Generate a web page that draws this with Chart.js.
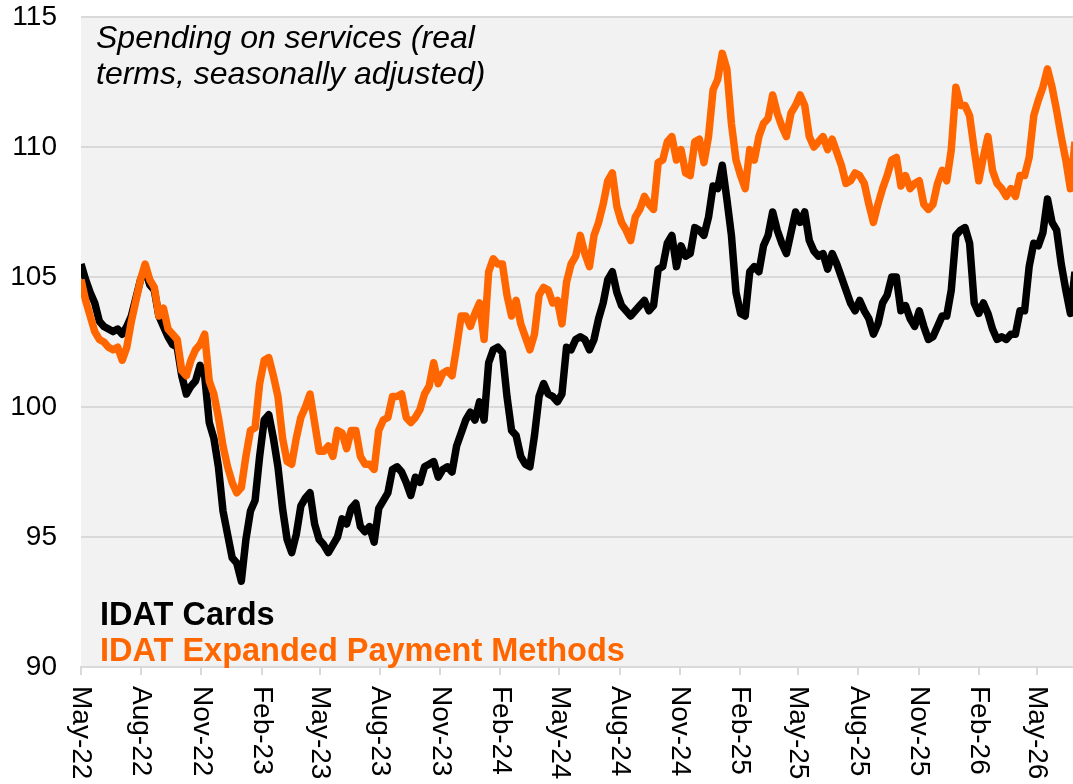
<!DOCTYPE html>
<html>
<head>
<meta charset="utf-8">
<script src="https://cdn.jsdelivr.net/npm/chart.js@4.4.1/dist/chart.umd.min.js"></script>
<style>
  html, body { margin: 0; padding: 0; background: #fff; }
  #wrap { width: 1073px; height: 784px; }
</style>
</head>
<body>
<div id="wrap"><canvas id="chart"></canvas></div>
<script>
// weekly readings, first week starting 1 May 2022
const startDate = '2022-05-01';
const lastDay = 1516;

const tickLabels = ['May-22', 'Aug-22', 'Nov-22', 'Feb-23', 'May-23', 'Aug-23', 'Nov-23', 'Feb-24',
  'May-24', 'Aug-24', 'Nov-24', 'Feb-25', 'May-25', 'Aug-25', 'Nov-25', 'Feb-26', 'May-26'];

const cardsLabel = 'IDAT Cards';
const expandedLabel = 'IDAT Expanded Payment Methods';
const titleLines = ['Spending on services (real', 'terms, seasonally adjusted)'];

const cards = [
  105.5, 104.9, 104.4, 104.0, 103.3, 103.1, 103.0, 102.9, 103.0, 102.8,
  103.1, 103.5, 104.2, 104.9, 105.3, 104.7, 104.5, 103.5, 103.1, 102.7,
  102.4, 102.3, 101.2, 100.5, 100.8, 101.0, 101.6, 101.2, 99.4, 98.8,
  97.7, 96.0, 95.1, 94.2, 94.0, 93.3, 94.9, 96.0, 96.4, 98.1,
  99.5, 99.7, 98.8, 97.7, 96.1, 94.9, 94.4, 95.1, 96.2, 96.5,
  96.7, 95.5, 94.9, 94.7, 94.4, 94.7, 95.0, 95.7, 95.5, 96.1,
  96.3, 95.4, 95.2, 95.4, 94.8, 96.1, 96.4, 96.7, 97.6, 97.7,
  97.5, 97.1, 96.6, 97.3, 97.1, 97.7, 97.8, 97.9, 97.3, 97.6,
  97.7, 97.5, 98.5, 99.0, 99.5, 99.8, 99.5, 100.2, 99.5, 101.7,
  102.2, 102.3, 102.1, 100.4, 99.1, 98.9, 98.1, 97.8, 97.7, 98.9,
  100.4, 100.9, 100.5, 100.4, 100.2, 100.5, 102.3, 102.2, 102.6, 102.7,
  102.6, 102.2, 102.6, 103.4, 104.0, 104.9, 105.2, 104.4, 103.9, 103.7,
  103.5, 103.7, 103.9, 104.1, 103.7, 103.9, 105.3, 105.4, 106.3, 106.6,
  105.4, 106.2, 105.8, 105.9, 106.9, 106.8, 106.6, 107.3, 108.5, 108.4,
  109.3, 108.0, 106.6, 104.4, 103.6, 103.5, 105.2, 105.4, 105.2, 106.2,
  106.6, 107.5, 106.8, 106.3, 105.9, 106.7, 107.5, 107.1, 107.5, 106.4,
  106.0, 105.8, 105.9, 105.3, 105.9, 105.5, 105.0, 104.5, 104.0, 103.7,
  104.1, 103.7, 103.4, 102.8, 103.2, 104.0, 104.3, 105.0, 105.0, 103.7,
  103.9, 103.4, 103.1, 103.7, 103.1, 102.6, 102.7, 103.1, 103.5, 103.5,
  104.5, 106.6, 106.8, 106.9, 106.3, 104.0, 103.6, 104.0, 103.6, 103.0,
  102.6, 102.7, 102.6, 102.8, 102.8, 103.7, 103.7, 105.4, 106.3, 106.2,
  106.7, 108.0, 107.1, 106.8, 105.5, 104.5, 103.6, 105.2
];

const expanded = [
  104.9, 104.1, 103.5, 102.9, 102.6, 102.5, 102.3, 102.2, 102.3, 101.8,
  102.3, 103.3, 104.1, 104.9, 105.5, 104.9, 104.6, 103.5, 103.8, 103.0,
  102.8, 102.6, 101.4, 101.2, 101.8, 102.2, 102.4, 102.8, 101.0, 100.5,
  99.6, 98.5, 97.7, 97.1, 96.7, 96.9, 98.1, 99.1, 99.2, 100.9,
  101.8, 101.9, 101.2, 100.4, 98.8, 97.9, 97.8, 98.8, 99.6, 100.0,
  100.5, 99.4, 98.3, 98.3, 98.5, 98.1, 99.1, 99.0, 98.4, 99.1,
  99.1, 98.1, 97.8, 97.8, 97.6, 99.1, 99.5, 99.6, 100.4, 100.4,
  100.5, 99.6, 99.4, 99.6, 99.9, 100.5, 100.8, 101.7, 100.9, 101.3,
  101.4, 101.2, 102.3, 103.5, 103.5, 103.1, 103.6, 104.0, 102.6, 105.2,
  105.7, 105.5, 105.5, 104.3, 103.5, 104.1, 103.2, 102.7, 102.2, 102.8,
  104.3, 104.6, 104.5, 104.0, 104.1, 103.2, 104.8, 105.5, 105.8, 106.6,
  105.9, 105.4, 106.6, 107.1, 107.8, 108.7, 109.0, 107.7, 107.1, 106.8,
  106.4, 107.3, 107.6, 108.1, 107.8, 107.6, 109.4, 109.5, 110.2, 110.4,
  109.5, 109.9, 109.0, 108.9, 110.2, 110.3, 109.4, 110.4, 112.2, 112.6,
  113.6, 113.0, 110.9, 109.5, 108.9, 108.4, 109.9, 109.5, 110.4, 110.9,
  111.1, 112.0, 111.3, 110.8, 110.4, 111.3, 111.6, 112.0, 111.6, 110.4,
  110.0, 110.2, 110.4, 109.9, 110.3, 109.8, 109.3, 108.6, 108.7, 109.0,
  108.9, 108.6, 107.8, 107.1, 107.8, 108.4, 108.9, 109.5, 109.6, 108.5,
  108.9, 108.4, 108.6, 108.7, 107.8, 107.6, 107.8, 108.6, 109.1, 108.7,
  109.9, 112.3, 111.6, 111.6, 111.2, 109.9, 108.7, 109.6, 110.4, 109.1,
  108.6, 108.4, 108.1, 108.4, 108.1, 108.9, 108.9, 109.6, 111.2, 111.8,
  112.3, 113.0, 112.3, 111.4, 110.4, 109.5, 108.4, 110.2
];

const monthNames = ['Jan', 'Feb', 'Mar', 'Apr', 'May', 'Jun', 'Jul', 'Aug', 'Sep', 'Oct', 'Nov', 'Dec'];
const start = new Date(startDate + 'T00:00:00Z').getTime();
const dayOf = lbl => {
  const [m, y] = lbl.split('-');
  return (Date.UTC(2000 + Number(y), monthNames.indexOf(m), 1) - start) / 864e5;
};
const tickDays = tickLabels.map(dayOf);
const weekDays = cards.map((_, i) => i * 7);

const ORANGE = '#ff6600';
const AXIS_FONT = '"Liberation Sans", Arial, sans-serif';

const plotBg = {
  id: 'plotBg',
  beforeDraw(c) {
    const a = c.chartArea, ctx = c.ctx;
    ctx.save();
    ctx.fillStyle = '#f2f2f2';
    ctx.fillRect(a.left, a.top, a.right - a.left, a.bottom - a.top);
    ctx.restore();
  }
};

const texts = {
  id: 'texts',
  afterDraw(c) {
    const ctx = c.ctx, s = c.scales.x;
    ctx.save();
    // x labels, rotated to read downward
    ctx.font = '28px ' + AXIS_FONT;
    ctx.fillStyle = '#000';
    ctx.textAlign = 'left';
    ctx.textBaseline = 'middle';
    tickDays.forEach((d, i) => {
      ctx.save();
      ctx.translate(s.getPixelForValue(d), s.top + 19);
      ctx.rotate(Math.PI / 2);
      ctx.fillText(tickLabels[i], 0, 0);
      ctx.restore();
    });
    // title in the plot
    ctx.textBaseline = 'alphabetic';
    ctx.font = 'italic 32px ' + AXIS_FONT;
    ctx.fillText(titleLines[0], 96, 48);
    ctx.fillText(titleLines[1], 96, 84);
    // legend text
    ctx.font = 'bold 32.5px ' + AXIS_FONT;
    ctx.fillText(cardsLabel, 100, 625);
    ctx.fillStyle = ORANGE;
    ctx.fillText(expandedLabel, 100, 661);
    ctx.restore();
  }
};

new Chart(document.getElementById('chart'), {
  type: 'line',
  data: {
    datasets: [
      {
        label: cardsLabel,
        data: cards.map((v, i) => ({ x: weekDays[i], y: v })),
        borderColor: '#000',
        borderWidth: 7.5,
        pointRadius: 0,
        borderJoinStyle: 'round',
        clip: 0,
        order: 2
      },
      {
        label: expandedLabel,
        data: expanded.map((v, i) => ({ x: weekDays[i], y: v })),
        borderColor: ORANGE,
        borderWidth: 7.5,
        pointRadius: 0,
        borderJoinStyle: 'round',
        clip: 0,
        order: 1
      }
    ]
  },
  options: {
    responsive: true,
    maintainAspectRatio: false,
    animation: false,
    devicePixelRatio: 1,
    layout: { padding: { top: 17, right: 0, left: 0, bottom: 0 } },
    scales: {
      x: {
        type: 'linear',
        min: 0,
        max: lastDay,
        afterBuildTicks: s => { s.ticks = tickDays.map(v => ({ value: v })); },
        afterFit: s => { s.height = 117; s.paddingLeft = 0; s.paddingRight = 0; },
        ticks: { display: false },
        grid: { drawOnChartArea: false, drawTicks: true, tickLength: 8, color: '#d9d9d9', lineWidth: 2 },
        border: { display: true, color: '#d9d9d9', width: 2 }
      },
      y: {
        min: 90,
        max: 115,
        afterFit: s => { s.width = 81; s.paddingTop = 0; s.paddingBottom = 0; },
        ticks: { stepSize: 5, padding: 24, color: '#000', font: { size: 28, family: AXIS_FONT } },
        grid: { color: '#d9d9d9', lineWidth: 2, drawTicks: false },
        border: { display: false }
      }
    },
    plugins: {
      legend: { display: false },
      tooltip: { enabled: false }
    }
  },
  plugins: [plotBg, texts]
});
</script>
</body>
</html>
